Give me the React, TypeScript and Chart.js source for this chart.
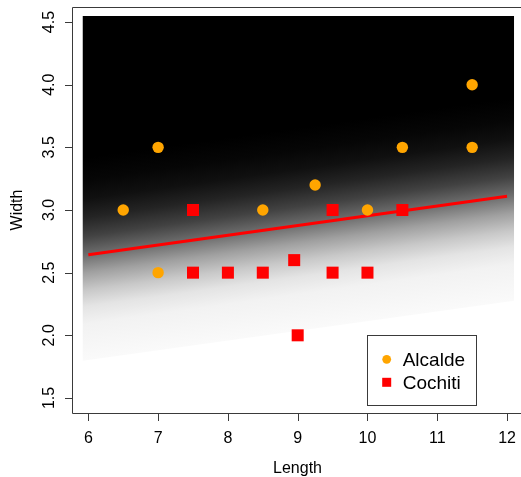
import { useEffect, useRef } from "react";
import { Chart, registerables } from "chart.js";

Chart.register(...registerables);

const SERIES_NAMES = ["Alcalde", "Cochiti"];
const ALCALDE_LENGTH = [6.5, 7, 7, 8.5, 9.25, 10, 10.5, 11.5, 11.5];
const ALCALDE_WIDTH = [3.0, 3.5, 2.5, 3.0, 3.2, 3.0, 3.5, 4.0, 3.5];
const COCHITI_LENGTH = [7.5, 7.5, 8, 8.5, 8.95, 9, 9.5, 9.5, 10, 10.5];
const COCHITI_WIDTH = [3.0, 2.5, 2.5, 2.5, 2.6, 2.0, 3.0, 2.5, 2.5, 3.0];
const BOUNDARY_LENGTH = [6, 12];
const BOUNDARY_WIDTH = [2.643, 3.109];
const X_TICKS = [6, 7, 8, 9, 10, 11, 12];
const Y_TICKS = [1.5, 2, 2.5, 3, 3.5, 4, 4.5];
const X_TITLE = "Length";
const Y_TITLE = "Width";

const FONT = "'Liberation Sans', Arial, Helvetica, sans-serif";
const ORANGE = "#FFA500";
const RED = "#FF0000";
const FRAME = "#3a3a3a";

// background shading: offsets (in width units from the boundary line) and grey levels
const SHADE_STOPS: [number, number][] = [
  [0.78, 0],
  [0.6, 6],
  [0.45, 16],
  [0.3, 36],
  [0.15, 66],
  [0.0, 110],
  [-0.14, 160],
  [-0.28, 200],
  [-0.41, 228],
  [-0.55, 242],
  [-0.84, 250],
];
const RASTER_X = [5.92, 12.1];
const RASTER_TOP = 4.548;

function lineAt(x: number) {
  const [x0, x1] = BOUNDARY_LENGTH;
  const [y0, y1] = BOUNDARY_WIDTH;
  return y0 + ((y1 - y0) * (x - x0)) / (x1 - x0);
}

const customPlugin = {
  id: "customDecor",
  beforeDatasetsDraw(chart: any) {
    const { ctx } = chart;
    const xs = chart.scales.x;
    const ys = chart.scales.y;
    const px = (v: number) => xs.getPixelForValue(v);
    const py = (v: number) => ys.getPixelForValue(v);
    const dTop = SHADE_STOPS[0][0];
    const dBot = SHADE_STOPS[SHADE_STOPS.length - 1][0];
    const s = -(py(lineAt(12)) - py(lineAt(6))) / (px(12) - px(6));
    const xa = 9;
    const ax = px(xa);
    const ay = py(lineAt(xa) + dTop);
    const dv = py(lineAt(xa) + dBot) - ay;
    const k = dv / (1 + s * s);
    const bx = ax + s * k;
    const by = ay + k;
    const g = ctx.createLinearGradient(ax, ay, bx, by);
    const span = dTop - dBot;
    SHADE_STOPS.forEach(([d, gray]) => {
      g.addColorStop((dTop - d) / span, `rgb(${gray},${gray},${gray})`);
    });
    ctx.save();
    ctx.beginPath();
    const [xl, xr] = RASTER_X;
    ctx.moveTo(px(xl), py(RASTER_TOP));
    ctx.lineTo(px(xr), py(RASTER_TOP));
    ctx.lineTo(px(xr), py(lineAt(xr) + dBot));
    ctx.lineTo(px(xl), py(lineAt(xl) + dBot));
    ctx.closePath();
    ctx.fillStyle = g;
    ctx.fill();
    ctx.restore();
  },
  afterDraw(chart: any) {
    const { ctx, chartArea } = chart;
    const xs = chart.scales.x;
    const ys = chart.scales.y;
    const px = (v: number) => xs.getPixelForValue(v);
    const py = (v: number) => ys.getPixelForValue(v);
    ctx.save();
    const bottom = Math.round(chartArea.bottom) + 0.5;
    const left = Math.round(chartArea.left) + 0.5;
    const top = Math.round(chartArea.top) + 0.5;
    // frame (right side lies just beyond the canvas)
    ctx.strokeStyle = FRAME;
    ctx.lineWidth = 1;
    ctx.beginPath();
    ctx.moveTo(chart.width + 2, top);
    ctx.lineTo(left, top);
    ctx.lineTo(left, bottom);
    ctx.lineTo(chart.width + 2, bottom);
    ctx.stroke();
    ctx.fillStyle = "#000";
    ctx.font = `16px ${FONT}`;
    // x ticks
    ctx.textAlign = "center";
    ctx.textBaseline = "alphabetic";
    X_TICKS.forEach((v) => {
      const x = Math.round(px(v)) + 0.5;
      ctx.beginPath();
      ctx.moveTo(x, bottom);
      ctx.lineTo(x, bottom + 7.5);
      ctx.stroke();
      ctx.fillText(String(v), px(v), bottom + 29);
    });
    // y ticks
    Y_TICKS.forEach((v) => {
      const y = Math.round(py(v)) + 0.5;
      ctx.beginPath();
      ctx.moveTo(left, y);
      ctx.lineTo(left - 7.5, y);
      ctx.stroke();
      ctx.save();
      ctx.translate(left - 18.5, py(v));
      ctx.rotate(-Math.PI / 2);
      ctx.fillText(v.toFixed(1), 0, 0);
      ctx.restore();
    });
    // titles
    ctx.fillText(X_TITLE, 297.5, 473.3);
    ctx.save();
    ctx.translate(21.7, (chartArea.top + chartArea.bottom) / 2);
    ctx.rotate(-Math.PI / 2);
    ctx.fillText(Y_TITLE, 0, 0);
    ctx.restore();
    // legend
    ctx.fillStyle = "#fff";
    ctx.fillRect(367.5, 335.5, 109, 70);
    ctx.strokeStyle = FRAME;
    ctx.strokeRect(367.5, 335.5, 109, 70);
    const ds = chart.data.datasets;
    ctx.fillStyle = ds[0].backgroundColor;
    ctx.beginPath();
    ctx.arc(386.7, 359.3, 4.4, 0, Math.PI * 2);
    ctx.fill();
    ctx.fillStyle = ds[1].backgroundColor;
    ctx.fillRect(382.2, 377.8, 9, 9);
    ctx.fillStyle = "#000";
    ctx.font = `19px ${FONT}`;
    ctx.textAlign = "left";
    ctx.fillText(ds[0].label, 402.7, 366);
    ctx.fillText(ds[1].label, 402.7, 389.3);
    ctx.restore();
  },
};

export default function App() {
  const ref = useRef<HTMLCanvasElement>(null);
  useEffect(() => {
    if (!ref.current) return;
    const chart = new Chart(ref.current, {
      type: "scatter",
      data: {
        datasets: [
          {
            label: SERIES_NAMES[0],
            data: ALCALDE_LENGTH.map((x, i) => ({ x, y: ALCALDE_WIDTH[i] })),
            backgroundColor: ORANGE,
            borderWidth: 0,
            pointStyle: "circle",
            pointRadius: 5.7,
            pointHoverRadius: 5.7,
          },
          {
            label: SERIES_NAMES[1],
            data: COCHITI_LENGTH.map((x, i) => ({ x, y: COCHITI_WIDTH[i] })),
            backgroundColor: RED,
            borderWidth: 0,
            pointStyle: "rect",
            pointRadius: 8.5,
            pointHoverRadius: 8.5,
          },
          {
            type: "line",
            label: "boundary",
            data: BOUNDARY_LENGTH.map((x, i) => ({ x, y: BOUNDARY_WIDTH[i] })),
            borderColor: RED,
            borderWidth: 3,
            pointRadius: 0,
            showLine: true,
            fill: false,
            order: 1,
          } as any,
        ],
      },
      options: {
        animation: false,
        responsive: false,
        maintainAspectRatio: false,
        events: [],
        layout: { autoPadding: false, padding: { left: 72, top: 7, right: 0, bottom: 64 } },
        plugins: { legend: { display: false }, tooltip: { enabled: false } },
        scales: {
          x: { type: "linear", min: 5.766, max: 12.2, display: false },
          y: { type: "linear", min: 1.38, max: 4.62, display: false },
        },
      },
      plugins: [customPlugin],
    });
    return () => chart.destroy();
  }, []);
  return (
    <div style={{ position: "absolute", left: 0, top: 0, width: 521, height: 477, background: "#fff" }}>
      <canvas ref={ref} width={521} height={477} style={{ display: "block", width: 521, height: 477 }} />
    </div>
  );
}
